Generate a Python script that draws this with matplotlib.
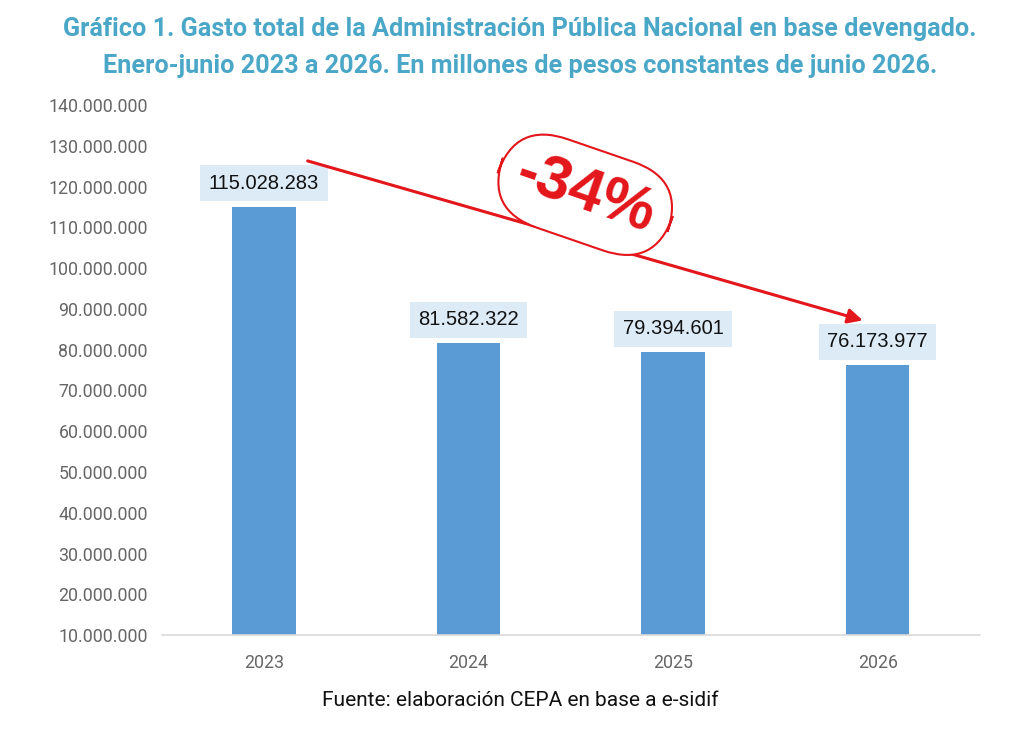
import matplotlib.pyplot as plt
import numpy as np
from matplotlib.ticker import FuncFormatter

# Datos del gráfico
anios = ['2023', '2024', '2025', '2026']
gasto = [115028283, 81582322, 79394601, 76173977]
etiquetas = ['115.028.283', '81.582.322', '79.394.601', '76.173.977']
variacion = '-34%'

color_barra = '#5B9BD5'
color_titulo = '#4AA7C7'
color_rojo = '#E3161B'

fig = plt.figure(figsize=(10.24, 7.35), dpi=100)
ax = fig.add_axes([0.158, 0.136, 0.799, 0.721])

x = np.arange(len(anios))
ax.bar(x, gasto, width=0.31, color=color_barra, zorder=2)

ax.set_xlim(-0.5, len(anios) - 0.5)
ax.set_ylim(10000000, 140000000)
ax.set_yticks(np.arange(10000000, 140000001, 10000000))
ax.yaxis.set_major_formatter(FuncFormatter(lambda v, p: f'{int(v):,}'.replace(',', '.')))
ax.set_xticks(x)
ax.set_xticklabels(anios)

for lado in ['top', 'right', 'left']:
    ax.spines[lado].set_visible(False)
ax.spines['bottom'].set_color('#D9D9D9')
ax.spines['bottom'].set_linewidth(1.2)
ax.tick_params(axis='both', length=0, labelsize=12.8, labelcolor='#666666')
ax.tick_params(axis='x', pad=14)
ax.tick_params(axis='y', pad=10)
for t in ax.get_xticklabels() + ax.get_yticklabels():
    t.set_family(['Roboto', 'DejaVu Sans'])

# Etiquetas de valor con fondo celeste
for xi, v, et in zip(x, gasto, etiquetas):
    ax.annotate(et, (xi, v), xytext=(0, 17), textcoords='offset points',
                ha='center', va='center', fontsize=14.5, color='#111111',
                family=['Liberation Sans', 'DejaVu Sans'],
                bbox=dict(boxstyle='square,pad=0.42', fc='#DDEBF7', ec='none'))

# Flecha de variación
ax.annotate('', xy=(2.94, 87000000), xytext=(0.2, 126500000),
            arrowprops=dict(arrowstyle='-|>', color=color_rojo, lw=2.2,
                            mutation_scale=22), zorder=5)

ax.text(1.57, 118000000, variacion, rotation=-19, ha='center', va='center',
        fontsize=44, fontweight='bold', color=color_rojo,
        family=['Liberation Sans', 'DejaVu Sans'], zorder=6,
        bbox=dict(boxstyle='round,pad=0.3,rounding_size=0.9', fc='white',
                  ec=color_rojo, lw=1.5))

fig.text(0.508, 0.936, 'Gráfico 1. Gasto total de la Administración Pública Nacional en base devengado.\n'
         'Enero-junio 2023 a 2026. En millones de pesos constantes de junio 2026.',
         ha='center', va='center', fontsize=18.2, fontweight='bold',
         color=color_titulo, linespacing=1.68, family=['Roboto', 'DejaVu Sans'])

fig.text(0.508, 0.047, 'Fuente: elaboración CEPA en base a e-sidif', ha='center',
         va='center', fontsize=15, color='#111111', family=['Roboto', 'DejaVu Sans'])

fig.savefig('out.png', dpi=100, facecolor='white')
